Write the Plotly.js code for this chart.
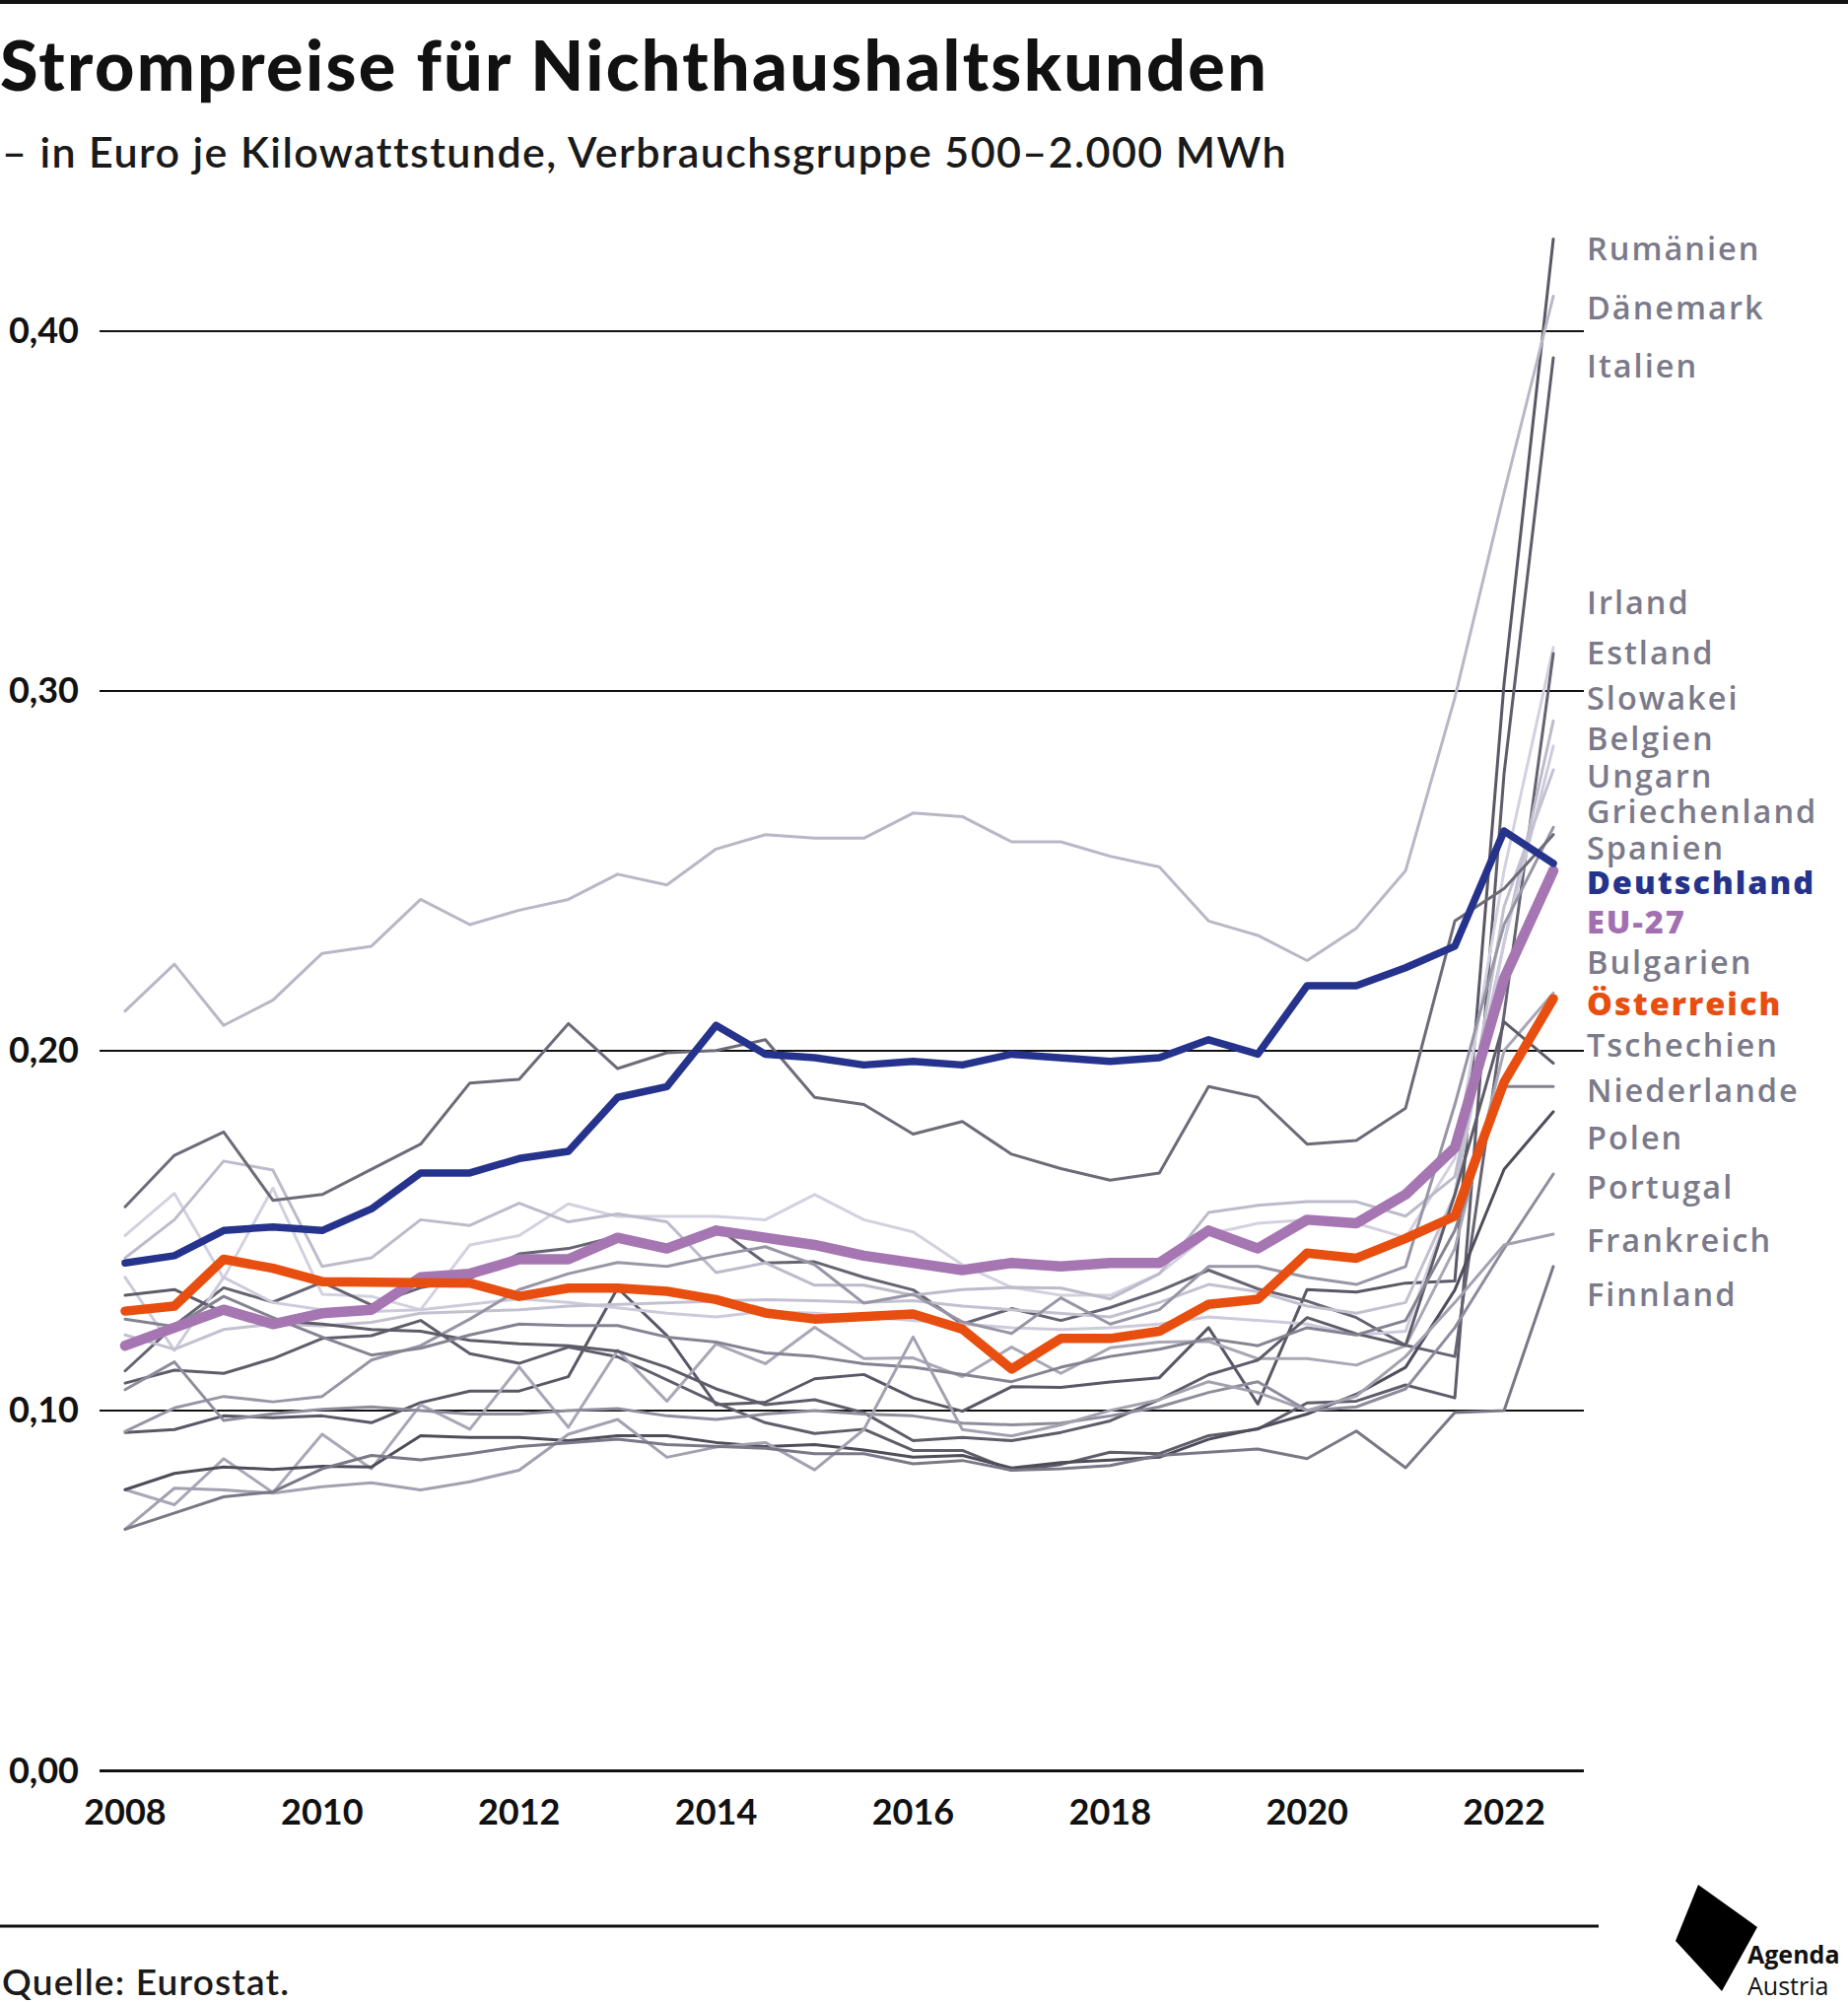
<!DOCTYPE html>
<html>
<head>
<meta charset="utf-8">
<script src="https://cdn.plot.ly/plotly-3.0.1.min.js"></script>
<style>
  html, body { margin: 0; padding: 0; background: #fff; }
  #chart { width: 1875px; height: 2032px; }
  .js-line { stroke-linejoin: round !important; stroke-linecap: round !important; }
</style>
</head>
<body>
<div id="chart"></div>
<script>
// ---------- DATA (Euro je kWh, Halbjahre 2008 S1 … 2022 S2) ----------
const periods = [2008,2008.5,2009,2009.5,2010,2010.5,2011,2011.5,2012,2012.5,2013,2013.5,2014,2014.5,2015,2015.5,2016,2016.5,2017,2017.5,2018,2018.5,2019,2019.5,2020,2020.5,2021,2021.5,2022,2022.5];
const xTicks = [2008,2010,2012,2014,2016,2018,2020,2022];
const yTicks = [0,0.1,0.2,0.3,0.4];

const deutschland = [0.141,0.143,0.150,0.151,0.150,0.156,0.166,0.166,0.170,0.172,0.187,0.190,0.207,0.199,0.198,0.196,0.197,0.196,0.199,0.198,0.197,0.198,0.203,0.199,0.218,0.218,0.223,0.229,0.261,0.252];
const eu27 = [0.118,0.123,0.128,0.124,0.127,0.128,0.137,0.138,0.142,0.142,0.148,0.145,0.150,0.148,0.146,0.143,0.141,0.139,0.141,0.140,0.141,0.141,0.150,0.145,0.153,0.152,0.160,0.173,0.220,0.250];
const oesterreich = [0.1276,0.129,0.142,0.1395,0.1358,0.1355,0.1354,0.1354,0.1317,0.134,0.134,0.1331,0.1308,0.1271,0.1254,0.1262,0.1268,0.1226,0.1115,0.120,0.120,0.122,0.1295,0.1309,0.1437,0.1423,0.1478,0.154,0.1912,0.2144];

const rumaenien = [0.0939,0.0947,0.0985,0.098,0.0985,0.0966,0.1022,0.1054,0.1054,0.1094,0.134,0.1208,0.1016,0.1023,0.1088,0.110,0.1035,0.0998,0.1066,0.1064,0.1079,0.1091,0.123,0.1018,0.1336,0.1329,0.1354,0.136,0.302,0.4255];
const daenemark = [0.211,0.224,0.207,0.214,0.227,0.229,0.242,0.235,0.239,0.242,0.249,0.246,0.256,0.260,0.259,0.259,0.266,0.265,0.258,0.258,0.254,0.251,0.236,0.232,0.225,0.234,0.250,0.298,0.355,0.4096];
const italien = [0.1076,0.1112,0.1103,0.1144,0.120,0.1208,0.125,0.1158,0.1131,0.1176,0.1149,0.1085,0.1021,0.0966,0.0936,0.0948,0.0889,0.0889,0.0834,0.085,0.0884,0.088,0.093,0.0948,0.1021,0.1026,0.1071,0.1035,0.277,0.3925];
const irland = [0.1486,0.1603,0.1367,0.1618,0.1323,0.1317,0.128,0.146,0.1486,0.1574,0.1539,0.1539,0.1539,0.153,0.160,0.153,0.1496,0.1405,0.1342,0.132,0.132,0.138,0.149,0.152,0.153,0.152,0.148,0.170,0.250,0.312];
const estland = [0.111,0.1236,0.1341,0.1301,0.1356,0.1293,0.1341,0.1366,0.1435,0.145,0.1484,0.1457,0.151,0.141,0.1413,0.137,0.1335,0.124,0.1283,0.125,0.1286,0.1332,0.139,0.1338,0.1304,0.1258,0.1181,0.115,0.210,0.3103];
const slowakei = [0.1424,0.153,0.1693,0.1668,0.140,0.1424,0.153,0.1514,0.1576,0.1524,0.1546,0.1524,0.1383,0.141,0.1348,0.1348,0.132,0.1336,0.1342,0.134,0.131,0.138,0.155,0.157,0.158,0.158,0.154,0.165,0.230,0.2916];
const belgien = [0.137,0.1167,0.137,0.130,0.128,0.1275,0.128,0.1295,0.131,0.130,0.1285,0.127,0.126,0.1275,0.127,0.126,0.125,0.124,0.123,0.1225,0.123,0.124,0.126,0.125,0.124,0.121,0.122,0.160,0.230,0.2846];
const ungarn = [0.121,0.117,0.1225,0.124,0.1235,0.1245,0.127,0.1275,0.128,0.129,0.1295,0.130,0.1305,0.1308,0.1305,0.130,0.1305,0.129,0.128,0.127,0.126,0.130,0.135,0.133,0.129,0.127,0.130,0.160,0.240,0.278];
const griechenland = [0.0942,0.1007,0.1039,0.1024,0.1039,0.114,0.118,0.1254,0.1336,0.138,0.1411,0.140,0.143,0.1455,0.1405,0.1298,0.1323,0.1246,0.1214,0.1313,0.124,0.128,0.140,0.140,0.137,0.135,0.140,0.185,0.235,0.262];
const spanien = [0.1566,0.1709,0.1774,0.1584,0.160,0.167,0.174,0.191,0.192,0.2075,0.195,0.1994,0.200,0.203,0.187,0.185,0.1768,0.1803,0.1712,0.1672,0.164,0.166,0.190,0.187,0.174,0.175,0.184,0.236,0.245,0.260];
const bulgarien = [0.078,0.0738,0.0866,0.0772,0.0934,0.0838,0.1016,0.0948,0.1121,0.0953,0.1167,0.1026,0.1185,0.113,0.1231,0.1144,0.1146,0.1094,0.1176,0.1103,0.1174,0.119,0.1192,0.1144,0.1144,0.1126,0.118,0.145,0.200,0.216];
const tschechien = [0.132,0.1336,0.1272,0.125,0.124,0.1225,0.122,0.1195,0.1185,0.118,0.1165,0.112,0.106,0.1016,0.103,0.0994,0.0916,0.0925,0.0916,0.0939,0.0971,0.103,0.1099,0.114,0.1258,0.1213,0.1181,0.160,0.208,0.1965];
const niederlande = [0.1254,0.1233,0.1317,0.1258,0.1204,0.1154,0.1173,0.121,0.124,0.1236,0.1236,0.1204,0.119,0.116,0.115,0.113,0.112,0.110,0.108,0.112,0.115,0.117,0.120,0.118,0.123,0.121,0.125,0.150,0.190,0.190];
const polen = [0.078,0.0825,0.0843,0.0836,0.0845,0.0843,0.093,0.0925,0.0925,0.0916,0.093,0.093,0.0911,0.090,0.0905,0.089,0.087,0.0875,0.084,0.0855,0.0862,0.087,0.092,0.095,0.099,0.1045,0.112,0.1335,0.167,0.183];
const portugal = [0.1058,0.1135,0.0972,0.0991,0.1003,0.101,0.100,0.099,0.099,0.100,0.1005,0.0985,0.0975,0.099,0.100,0.099,0.0985,0.0965,0.096,0.0965,0.0985,0.101,0.105,0.108,0.100,0.101,0.106,0.123,0.145,0.1657];
const frankreich = [0.067,0.0784,0.0779,0.077,0.0788,0.0799,0.0779,0.0802,0.0834,0.0934,0.0975,0.087,0.0898,0.0911,0.0835,0.0947,0.1204,0.0947,0.0929,0.096,0.100,0.103,0.108,0.105,0.100,0.104,0.115,0.130,0.146,0.149];
const finnland = [0.067,0.0715,0.076,0.0774,0.0838,0.0875,0.0863,0.088,0.090,0.091,0.092,0.0905,0.090,0.0895,0.088,0.088,0.0852,0.0861,0.0834,0.0838,0.0847,0.0875,0.0884,0.0893,0.0866,0.0943,0.0841,0.0994,0.100,0.140];

const greyNames = ["Rumänien","Dänemark","Italien","Irland","Estland","Slowakei","Belgien","Ungarn","Griechenland","Spanien","Bulgarien","Tschechien","Niederlande","Polen","Portugal","Frankreich","Finnland"];
const greyValues = [rumaenien,daenemark,italien,irland,estland,slowakei,belgien,ungarn,griechenland,spanien,bulgarien,tschechien,niederlande,polen,portugal,frankreich,finnland];

// label order (top → bottom)
const labelNames = ["Rumänien","Dänemark","Italien","Irland","Estland","Slowakei","Belgien","Ungarn","Griechenland","Spanien","Deutschland","EU-27","Bulgarien","Österreich","Tschechien","Niederlande","Polen","Portugal","Frankreich","Finnland"];

// ---------- STYLE / LAYOUT ----------
const greyColor = {
  "Rumänien":"#5a5866","Dänemark":"#b9b7c6","Italien":"#5f5d6a","Irland":"#d3d1e0","Estland":"#666472",
  "Slowakei":"#bdbbca","Belgien":"#cdcbdb","Ungarn":"#c3c1d0","Griechenland":"#9896a6","Spanien":"#6d6b78",
  "Bulgarien":"#a9a7b6","Tschechien":"#5e5c69","Niederlande":"#858392","Polen":"#4f4d5a","Portugal":"#8f8d9c",
  "Frankreich":"#a3a1b0","Finnland":"#7a7886"
};
const labelPosY = [0.4231,0.4067,0.3904,0.3248,0.3106,0.2981,0.2868,0.2765,0.2665,0.2566,0.2470,0.2360,0.2247,0.2133,0.2016,0.1892,0.1760,0.1622,0.1476,0.1324];
const labelColor = {"Deutschland":"#26338c","EU-27":"#a270b0","Österreich":"#e84e0f"};

const W = 1875, H = 2032;
const M = {l:101, r:268, t:153, b:236};
const plotW = W - M.l - M.r, plotH = H - M.t - M.b;
const px = x => (x - M.l) / plotW;            // pixel → paper x
const py = y => (H - M.b - y) / plotH;        // pixel → paper y
const spaced = (t, s) => `<span style="letter-spacing:${s}px">${t}</span>`;

const traces = [];
greyNames.forEach((n, k) => {
  traces.push({x: periods, y: greyValues[k], type:'scatter', mode:'lines', name:n,
    line:{color: greyColor[n], width:3}, hoverinfo:'skip'});
});
traces.push({x: periods, y: eu27, type:'scatter', mode:'lines', name:'EU-27', line:{color:'#a676b3', width:10.5}});
traces.push({x: periods, y: oesterreich, type:'scatter', mode:'lines', name:'Österreich', line:{color:'#e84e0f', width:9.5}});
traces.push({x: periods, y: deutschland, type:'scatter', mode:'lines', name:'Deutschland', line:{color:'#26338c', width:7.5}});

const annotations = labelNames.map((n, k) => ({
  x: 1, xref:'paper', xanchor:'left', xshift: 1,
  y: labelPosY[k], yref:'y', yanchor:'middle',
  text: spaced(n, 2), showarrow:false,
  font:{family:'Open Sans, sans-serif', size:32.5, weight: labelColor[n] ? 800 : 600, color: labelColor[n] || '#7b7a8a'}
}));
annotations.push({
  x: px(0), xref:'paper', xanchor:'left', y: py(153), yref:'paper', yanchor:'middle',
  text: spaced('– in Euro je Kilowattstunde, Verbrauchsgruppe 500–2.000 MWh', 1.4), showarrow:false,
  font:{family:'Lato, sans-serif', size:43, weight:600, color:'#1a1a1a'}
});
annotations.push({
  x: px(0), xref:'paper', xanchor:'left', y: py(2009), yref:'paper', yanchor:'middle',
  text: spaced('Quelle: Eurostat.', 1.2), showarrow:false,
  font:{family:'Lato, sans-serif', size:37, weight:600, color:'#1a1a1a'}
});
annotations.push({
  x: px(1771), xref:'paper', xanchor:'left', y: py(1982), yref:'paper', yanchor:'middle',
  text:'<b>Agenda</b>', showarrow:false,
  font:{family:'Open Sans, sans-serif', size:25, color:'#111'}
});
annotations.push({
  x: px(1771), xref:'paper', xanchor:'left', y: py(2014), yref:'paper', yanchor:'middle',
  text:'Austria', showarrow:false,
  font:{family:'Open Sans, sans-serif', size:25, color:'#111'}
});

const shapes = [
  {type:'line', xref:'paper', yref:'paper', x0:px(0), x1:px(W), y0:py(2), y1:py(2), line:{color:'#111', width:4}},
  {type:'line', xref:'paper', yref:'paper', x0:px(0), x1:px(1622), y0:py(1954), y1:py(1954), line:{color:'#111', width:3}},
  {type:'path', xref:'paper', yref:'paper',
   path:`M ${px(1723)} ${py(1912)} L ${px(1783)} ${py(1955)} L ${px(1747)} ${py(2020)} L ${px(1700)} ${py(1969)} Z`,
   fillcolor:'#000', line:{width:0}}
];

const layout = {
  width: W, height: H,
  margin: M,
  paper_bgcolor:'#fff', plot_bgcolor:'#fff',
  showlegend:false,
  separators: ', ',
  title: {text: spaced('Strompreise für Nichthaushaltskunden', 2.3), x: 0, xref:'container', xanchor:'left',
          y: 1 - 67/H, yref:'container', yanchor:'middle',
          font:{family:'Lato, sans-serif', size:70, weight:900, color:'#111'}},
  xaxis: {range:[2007.74, 2022.81], tickvals:xTicks, ticktext:xTicks.map(String), ticks:'',
          showgrid:false, zeroline:false, showline:false, ticklabelstandoff: 18,
          tickfont:{family:'Lato, sans-serif', size:36, weight:700, color:'#111'}},
  yaxis: {range:[0, 0.45], tickvals:yTicks, tickformat:'.2f', ticks:'',
          showgrid:true, gridcolor:'#111', gridwidth:2,
          zeroline:true, zerolinecolor:'#111', zerolinewidth:3, showline:false,
          ticklabelstandoff: 20,
          tickfont:{family:'Lato, sans-serif', size:36, weight:700, color:'#111'}},
  annotations, shapes
};

Plotly.newPlot('chart', traces, layout, {displayModeBar:false, staticPlot:true});
</script>
</body>
</html>
